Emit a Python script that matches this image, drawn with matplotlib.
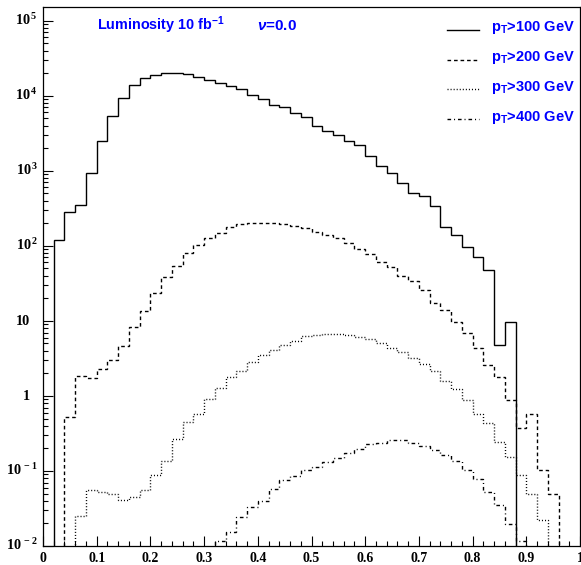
import numpy as np
import matplotlib
matplotlib.use('Agg')
import matplotlib.pyplot as plt
from matplotlib.ticker import MultipleLocator, LogLocator, NullFormatter
from matplotlib.lines import Line2D
from matplotlib.font_manager import FontProperties
import matplotlib.transforms as mtransforms

plt.rcParams['mathtext.fontset'] = 'custom'
plt.rcParams['mathtext.rm'] = 'Liberation Serif:bold'
plt.rcParams['mathtext.bf'] = 'Liberation Serif:bold'
plt.rcParams['mathtext.sf'] = 'Liberation Sans:bold'
plt.rcParams['mathtext.it'] = 'Liberation Sans:italic:bold'
plt.rcParams['lines.scale_dashes'] = False

# ---------------- data (50 bins of width 0.02 from 0 to 1) ----------------
bin_edges = np.round(np.linspace(0.0, 1.0, 51), 2)

pt100 = [0, 120, 279, 352, 923, 2510, 5410, 9310, 13900, 17200,
         18700, 20300, 19900, 19300, 17900, 16300, 14900, 13500, 12200, 10100,
         8950, 7590, 7000, 5850, 5150, 3980, 3410, 2990, 2490, 2180,
         1585, 1155, 940, 695, 505, 467, 338, 181, 141, 98,
         71, 48, 4.8, 9.6, 0, 0, 0, 0, 0, 0]

pt200 = [0, 0, 0.52, 1.85, 1.76, 2.27, 2.99, 4.6, 8.3, 13.4,
         23.2, 38.6, 53.6, 79.4, 102, 129, 149, 176, 195, 199,
         203, 199, 195, 185, 171, 154, 139, 126, 108, 89.5,
         76.8, 61.2, 52.5, 40, 33.5, 25.6, 17.1, 14, 9.7, 6.8,
         4.3, 2.56, 1.79, 0.88, 0.37, 0.58, 0.102, 0.05, 0, 0]

pt300 = [0, 0, 0, 0.0249, 0.0553, 0.0525, 0.05, 0.0407, 0.045, 0.0553,
         0.0877, 0.135, 0.27, 0.455, 0.575, 0.91, 1.28, 1.79, 2.13, 2.81,
         3.49, 4.07, 4.74, 5.45, 6.3, 6.55, 6.75, 6.75, 6.45, 6.1,
         5.82, 5.15, 4.29, 3.8, 3.25, 2.65, 2.15, 1.58, 1.22, 0.88,
         0.58, 0.43, 0.244, 0.152, 0.0877, 0.05, 0.022, 0, 0, 0]

pt400 = [0, 0, 0, 0, 0, 0, 0, 0, 0, 0,
         0, 0, 0, 0, 0, 0, 0.0115, 0.0154, 0.0244, 0.033,
         0.040, 0.058, 0.075, 0.085, 0.102, 0.113, 0.132, 0.149, 0.174, 0.199,
         0.227, 0.236, 0.257, 0.262, 0.236, 0.215, 0.189, 0.162, 0.135, 0.102,
         0.079, 0.053, 0.0349, 0.0195, 0.0115, 0, 0, 0, 0, 0]

series = [pt100, pt200, pt300, pt400]
series_labels = [r'$\mathsf{p_{T}}$>100 GeV', r'$\mathsf{p_{T}}$>200 GeV',
                 r'$\mathsf{p_{T}}$>300 GeV', r'$\mathsf{p_{T}}$>400 GeV']

xtick_values = [0, 0.1, 0.2, 0.3, 0.4, 0.5, 0.6, 0.7, 0.8, 0.9, 1.0]
xtick_labels = ['0', '0.1', '0.2', '0.3', '0.4', '0.5', '0.6', '0.7', '0.8', '0.9', '1']
ytick_values = [1e-2, 1e-1, 1, 10, 1e2, 1e3, 1e4, 1e5]
ytick_labels = [r'$10^{\,-2}$', r'$10^{\,-1}$', '1', '10',
                r'$10^{\,2}$', r'$10^{\,3}$', r'$10^{\,4}$', r'$10^{\,5}$']

title_text = r'Luminosity 10 fb$^{\mathsf{-1}}$'
nu_text = r'$\nu$=0.0'

# ---------------- styles ----------------
styles = ['-', (0, (2.6, 2.1)), (0, (0.75, 1.45)), (0, (2.6, 2.1, 0.75, 2.1))]
lw = 1.0

fig = plt.figure(figsize=(5.81, 5.65), dpi=100)
ax = fig.add_axes([43 / 581, 19 / 565, 537 / 581, 539 / 565])

for vals, ls in zip(series, styles):
    ax.stairs(vals, bin_edges, color='black', linewidth=lw, linestyle=ls)

ax.set_yscale('log', nonpositive='clip')
ax.set_xlim(0, 1)
ax.set_ylim(1e-2, 10 ** 5.183)

# ticks
ax.set_xticks(xtick_values)
ax.set_xticklabels(xtick_labels, fontfamily='Liberation Serif', fontweight='bold', fontsize=10)
ax.xaxis.set_minor_locator(MultipleLocator(0.02))
ax.yaxis.set_major_locator(LogLocator(base=10, numticks=20))
ax.yaxis.set_minor_locator(LogLocator(base=10, subs=np.arange(2, 10), numticks=40))
ax.yaxis.set_major_formatter(NullFormatter())
ax.yaxis.set_minor_formatter(NullFormatter())
ax.tick_params(which='both', direction='in', top=False, right=False, width=0.8, color='black')
ax.tick_params(which='major', length=7.2)
ax.tick_params(which='minor', length=3.8)
ax.tick_params(axis='x', which='major', pad=4.0)

for sp in ax.spines.values():
    sp.set_linewidth(0.9)

# y tick labels (ROOT-like placement)
ytrans = ax.get_yaxis_transform()
for v, lab in zip(ytick_values, ytick_labels):
    dx = -5 / 100 if '^' in lab else -13 / 100
    tr = ytrans + mtransforms.ScaledTranslation(dx, -4.5 / 100, fig.dpi_scale_trans)
    ax.text(0, v, lab, transform=tr, ha='right', va='baseline',
            fontfamily='Liberation Serif', fontweight='bold', fontsize=10.3)

# header texts
ax.text(0.1006, 0.957, title_text, transform=ax.transAxes, color='blue',
        fontfamily='Liberation Sans', fontweight='bold', fontsize=10.4, va='baseline')
ax.text(0.3985, 0.957, nu_text, transform=ax.transAxes, color='blue',
        fontfamily='Liberation Sans', fontweight='bold', fontsize=11.0, va='baseline')

# legend
handles = [Line2D([], [], color='black', linewidth=lw, linestyle=ls) for ls in styles]
leg = ax.legend(handles, series_labels, loc='upper left', bbox_to_anchor=(0.752, 0.977),
                frameon=False, prop=FontProperties(family='Liberation Sans', weight='bold', size=10.5),
                labelcolor='blue', handlelength=2.2, handletextpad=0.8, labelspacing=0.88,
                borderpad=0, borderaxespad=0)
for ln in leg.get_lines():
    ln.set_ydata(np.asarray(ln.get_ydata()) - 2.5)

fig.savefig('out.png', dpi=100)
